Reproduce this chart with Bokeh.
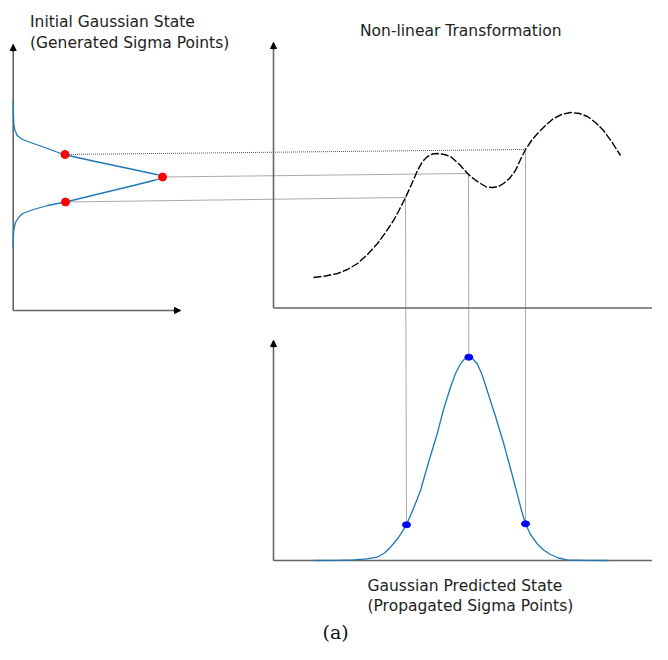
from bokeh.plotting import figure
from bokeh.models import Range1d, Arrow, NormalHead
from bokeh.core.properties import value
from bokeh.embed import file_html
from bokeh.resources import INLINE

# ---------------- data (diagram coordinates) ----------------
# initial gaussian (drawn sideways along the left y axis)
in_curve_x = [12.7, 12.9, 13.3, 14.5, 16.7, 22, 33, 47, 63, 95, 128, 156, 161, 162, 160, 155, 133, 100, 65, 47, 33, 22, 18, 15, 13.3, 12.9, 12.7]
in_curve_y = [100, 112, 124, 130, 135, 139, 143, 148, 154, 161, 168, 174, 175.5, 176.5, 178, 179.5, 185, 193, 201.5, 205, 209, 213, 217, 222, 229, 236, 247]
sigma_in_x = [64.5, 162, 65]
sigma_in_y = [154, 176.5, 201.5]

# non-linear transformation
nl_x = [313, 325, 337, 347, 357, 367, 377, 385, 393, 399, 405, 411, 417, 422, 427, 432, 437, 444, 450, 459, 468, 474, 480, 486, 492, 498, 503, 509, 515, 520, 525, 531, 537, 545, 553, 561, 570, 579, 587, 595, 603, 611, 620]
nl_y = [277, 275.5, 273, 269, 263, 254, 243, 232, 220, 209, 197, 184, 170, 161, 156, 153.5, 153, 154, 156, 164, 174, 179, 183, 186.5, 187, 186, 183, 178, 170, 159, 149, 140, 133, 125, 118, 114, 112, 113, 116, 122, 130, 141, 155]
sigma_out_x = [405, 468, 525]
sigma_out_y = [197, 173, 149]

# propagated gaussian
out_curve_x = [313.3, 335, 353.3, 366, 376.7, 384, 390, 398, 406, 413, 420, 428, 436.7, 443, 450, 455, 460, 464, 468.3, 472.5, 476.7, 481.5, 486.7, 495, 503.3, 510, 516.7, 521, 525, 530, 536.7, 543, 550, 558, 566.7, 585, 608.3]
out_curve_y = [560, 559.8, 559.3, 558.3, 556.7, 552.5, 546.7, 537, 524.3, 508, 490, 462, 433.3, 409, 386.7, 373, 363.3, 358.5, 356.7, 358.5, 363.3, 374, 390, 416, 443.3, 468, 493.3, 510, 523.3, 534, 543.3, 549.5, 554, 557.5, 559.3, 559.8, 560]
sigma_pred_x = [406, 468.3, 525]
sigma_pred_y = [524.3, 356.7, 523.3]

# axes: (x0, y0) -> (x1, y1); arrow heads at (x1, y1) when inside the canvas
axis_x0 = [12.7, 12.7, 273, 273, 273, 273]
axis_y0 = [310, 310, 307.5, 307.5, 560, 560]
axis_x1 = [12.7, 180, 273, 668, 273, 668]
axis_y1 = [44, 310, 42, 307.5, 340, 560]

# texts
label_text = ["Initial Gaussian State", "(Generated Sigma Points)", "Non-linear Transformation",
              "Gaussian Predicted State", "(Propagated Sigma Points)"]
label_x = [29.5, 29.5, 359.5, 367, 367]
label_y = [21.5, 42.5, 30.5, 585, 605]
caption_text = ["(a)"]
caption_x = [322]
caption_y = [631]

# ---------------- figure ----------------
W, H = 652, 644
p = figure(width=W, height=H, output_backend="svg", toolbar_location=None,
           x_range=Range1d(0, W), y_range=Range1d(H, 0),
           min_border=0, outline_line_color=None)
p.axis.visible = False
p.grid.visible = False
p.background_fill_color = "white"

# dotted projection lines: sigma points -> curve -> propagated gaussian
hx1 = [sigma_out_x[2], sigma_out_x[1], sigma_out_x[0]]
hy1 = [sigma_out_y[2], sigma_out_y[1], sigma_out_y[0]]
p.segment(x0=sigma_in_x, y0=sigma_in_y, x1=hx1, y1=hy1, line_color="#555555", line_width=1, line_dash="1 1")
p.segment(x0=sigma_out_x, y0=sigma_out_y, x1=sigma_pred_x, y1=sigma_pred_y,
          line_color="#555555", line_width=1, line_dash="1 1")

# axes
p.segment(x0=axis_x0, y0=axis_y0, x1=axis_x1, y1=axis_y1, line_color="#666666", line_width=1.6)
for x0, y0, x1, y1 in zip(axis_x0, axis_y0, axis_x1, axis_y1):
    if x1 >= W:
        continue
    dx = 0 if x1 == x0 else (7 if x1 > x0 else -7)
    dy = 0 if y1 == y0 else (7 if y1 > y0 else -7)
    p.add_layout(Arrow(x_start=x1 - dx, y_start=y1 - dy, x_end=x1, y_end=y1,
                       line_color="black", line_width=1.6,
                       end=NormalHead(size=6, fill_color="black", line_color="black", line_width=1)))

# curves
p.line(in_curve_x, in_curve_y, line_color="#1f77b4", line_width=1.3)
p.line(nl_x, nl_y, line_color="black", line_width=1.4, line_dash="8 2")
p.line(out_curve_x, out_curve_y, line_color="#1f77b4", line_width=1.3)

# sigma points
p.scatter(sigma_in_x, sigma_in_y, size=8, color="red", line_color="red")
p.ellipse(x=sigma_pred_x, y=sigma_pred_y, width=8, height=6, color="blue", line_color="blue")

# texts
p.text(x=label_x, y=label_y, text=label_text, text_font=value("DejaVu Sans"),
       text_font_size="15.5px", text_color="#222222", text_baseline="alphabetic")
p.text(x=caption_x, y=caption_y, text=caption_text, text_font=value("DejaVu Serif"),
       text_font_size="19px", text_color="#111111", text_baseline="alphabetic")

open("out.html", "w").write(file_html(p, INLINE))
